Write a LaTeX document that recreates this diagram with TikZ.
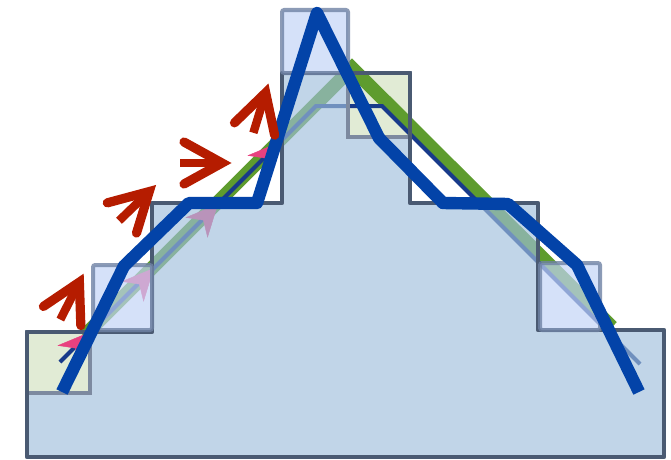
\documentclass[tikz,border=0pt]{standalone}
\usepackage{tikz}
\usetikzlibrary{arrows.meta}
\definecolor{stairfill}{HTML}{A0BFDB}
\definecolor{stairline}{HTML}{4A5A72}
\definecolor{cutfill}{HTML}{E1EBD5}
\definecolor{cutline}{HTML}{7D8AA0}
\definecolor{addfill}{HTML}{C3D4F6}
\definecolor{addline}{HTML}{6F82A4}
\definecolor{truegreen}{HTML}{5E9C2E}
\definecolor{trueblue}{HTML}{183A8A}
\definecolor{tanpink}{HTML}{E8417F}
\definecolor{recblue}{HTML}{0343A8}
\definecolor{tanred}{HTML}{B51C00}
\newcommand{\tanvec}[3]{%
  \begin{scope}[shift={(#1,#2)},rotate=#3]
    \draw[redshaft] (-50,0) -- (-8,0);
    \draw[redbarb] (-46,21) -- (-8,0) -- (-46,-21);
  \end{scope}}
\newcommand{\tanhead}[2]{\draw[pinkvec, shift={(#1,#2)}] (-2,2.2) -- (0,0);}

\begin{document}
\begin{tikzpicture}[
    x=0.025cm, y=-0.025cm,
    >=Stealth,
    stairs/.style={fill=stairfill, fill opacity=.65, even odd rule},
    stairedge/.style={draw=stairline, line width=0.12cm, line join=round},
    cutcell/.style={fill=cutfill},
    cutedge/.style={draw=cutline, line width=0.1cm},
    addcell/.style={draw=addline, draw opacity=.8, fill=addfill, fill opacity=.7, line width=0.1cm, rounded corners=1.5},
    truepath/.style={draw=truegreen, line width=0.34cm, line join=miter},
    thinpath/.style={draw=trueblue, line width=0.1cm, line join=miter},
    pinkvec/.style={tanpink, line width=0.3pt, -{Stealth[length=0.8cm, width=0.75cm, inset=0.25cm]}},
    recpath/.style={draw=recblue, line width=0.31cm, line join=round},
    redshaft/.style={draw=tanred, line width=0.21cm},
    redbarb/.style={draw=tanred, line width=0.23cm, line cap=round, line join=miter}
]
\useasboundingbox (0,0) rectangle (671,460);

\fill[cutcell] (27,332) rectangle (90,393);
\fill[cutcell] (348,73) rectangle (410,137);

\draw[truepath] (84,336) -- (352,68) -- (612,327);
\draw[thinpath] (60,362) -- (316,106) -- (382,106) -- (640,364);
\tanhead{90}{332}
\tanhead{154}{268}
\tanhead{218}{204}
\tanhead{280}{142}

\fill[stairs] (27,457) -- (27,332) -- (152,332) -- (152,203) -- (282,203) -- (282,73)
  -- (410,73) -- (410,203) -- (538,203) -- (538,330) -- (664,330) -- (664,457) -- cycle
  (27,332) rectangle (90,393) (348,73) rectangle (410,137);
\draw[cutedge] (27,332) rectangle (90,393);
\draw[cutedge] (348,73) rectangle (410,137);
\draw[stairedge] (27,457) -- (27,332) -- (152,332) -- (152,203) -- (282,203) -- (282,73)
  -- (410,73) -- (410,203) -- (538,203) -- (538,330) -- (664,330) -- (664,457) -- cycle;

\path[addcell] (93,265) rectangle (152,330);
\path[addcell] (282,10) rectangle (348,73);
\path[addcell] (540,263) rectangle (600,330);

\draw[recpath] (62,392) -- (124,266) -- (189,203) -- (257,203) -- (317,13) -- (379,138)
  -- (443,203) -- (508,204) -- (577,265) -- (639,392);

\tanvec{83}{275}{63}
\tanvec{155}{186}{44}
\tanvec{230}{163}{0}
\tanvec{268}{85}{73}
\end{tikzpicture}
\end{document}
